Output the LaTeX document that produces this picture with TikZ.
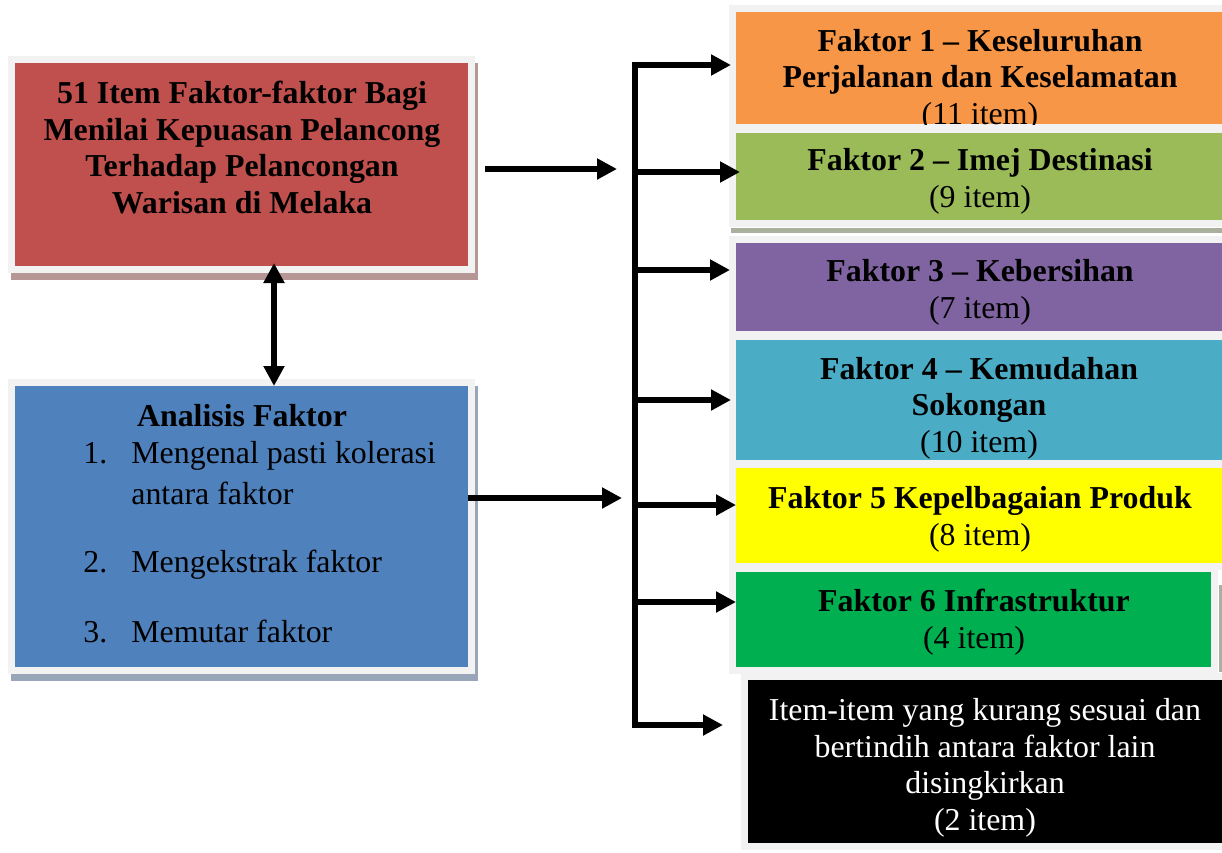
\documentclass[tikz,border=0pt]{standalone}
\usepackage{fontspec}
\setmainfont{Liberation Serif}
\usetikzlibrary{arrows.meta,backgrounds}

\definecolor{framegray}{HTML}{F2F2F2}
\definecolor{redfill}{HTML}{C0504D}
\definecolor{redshade}{HTML}{B79696}
\definecolor{bluefill}{HTML}{4F81BD}
\definecolor{blueshade}{HTML}{99A6B9}
\definecolor{orangefill}{HTML}{F79646}
\definecolor{olivefill}{HTML}{9BBB59}
\definecolor{greenshade}{HTML}{A9B09D}
\definecolor{purplefill}{HTML}{8064A2}
\definecolor{aquafill}{HTML}{4BACC6}
\definecolor{yellowfill}{HTML}{FFFF00}
\definecolor{greenfill}{HTML}{00B050}

\tikzset{
  box/.style={rectangle, inner sep=0pt, outer sep=0pt,
    preaction={draw=framegray, line width=7bp}},
  sidebox/.style={box, minimum width=247bp},
  boxtext/.style={align=center, anchor=base, inner sep=0pt,
    font=\fontsize{16}{18.3}\selectfont\bfseries},
  link/.style={line width=3bp, -{Triangle[length=10bp,width=10bp]}},
}

\begin{document}
\begin{tikzpicture}[x=0.5bp, y=-0.5bp]
    \useasboundingbox (0,0) rectangle (1222,852);

    % left boxes (text nodes sit on their last baseline)
    \node[box, fill=redfill, minimum width=226.5bp, minimum height=101.5bp] (items) at (241.5,164.5) {};
    \node[boxtext] (itemstext) at (242,213)
        {51 Item Faktor-faktor Bagi\\Menilai Kepuasan Pelancong\\Terhadap Pelancongan\\Warisan di Melaka};
    \node[box, fill=bluefill, minimum width=226.5bp, minimum height=140.5bp] (analisis) at (241.5,526.5) {};
    \node[boxtext] (analisistitle) at (242,426) {Analisis Faktor};
    \node[anchor=base west, inner sep=0pt, font=\fontsize{16}{21}\selectfont] (steps) at (83,463)
        {\begin{tabular}[t]{@{}p{24bp}@{}l@{}}
            1. & Mengenal pasti kolerasi\\
               & antara faktor\\[13bp]
            2. & Mengekstrak faktor\\[14bp]
            3. & Memutar faktor
         \end{tabular}};

    % factor boxes
    \node[sidebox, fill=orangefill, minimum height=56bp] (f1) at (983,68) {};
    \node[sidebox, fill=olivefill, minimum height=43.5bp] (f2) at (983,176.5) {};
    \node[sidebox, fill=purplefill, minimum height=44bp] (f3) at (983,287) {};
    \node[sidebox, fill=aquafill, minimum height=60bp] (f4) at (983,400) {};
    \node[sidebox, fill=yellowfill, minimum height=47.5bp] (f5) at (983,515.5) {};
    \node[box, fill=greenfill, minimum width=237.5bp, minimum height=47.5bp] (f6) at (973.5,619.5) {};
    \node[box, fill=black, minimum width=241bp, minimum height=81.5bp] (dropped) at (989,761.5) {};

    \begin{scope}
        \clip (f1.north west) rectangle (f1.south east);
        \node[boxtext] (f1text) at (980,124)
            {Faktor 1 – Keseluruhan\\Perjalanan dan Keselamatan\\{\mdseries(11 item)}};
    \end{scope}
    \node[boxtext] (f2text) at (980,207) {Faktor 2 – Imej Destinasi\\{\mdseries(9 item)}};
    \node[boxtext] (f3text) at (980,318) {Faktor 3 – Kebersihan\\{\mdseries(7 item)}};
    \node[boxtext] (f4text) at (979,452) {Faktor 4 – Kemudahan\\Sokongan\\{\mdseries(10 item)}};
    \node[boxtext] (f5text) at (980,545) {Faktor 5 Kepelbagaian Produk\\{\mdseries(8 item)}};
    \node[boxtext] (f6text) at (974,648) {Faktor 6 Infrastruktur\\{\mdseries(4 item)}};
    \node[boxtext, font=\fontsize{16}{18.3}\selectfont, text=white] (droppedtext) at (985,830)
        {Item-item yang kurang sesuai dan\\bertindih antara faktor lain\\disingkirkan\\(2 item)};

    % shadows
    \begin{scope}[on background layer]
        \fill[redshade] ([shift={(-4,0)}]items.north west) rectangle ([shift={(10,14)}]items.south east);
        \fill[blueshade] ([shift={(-4,0)}]analisis.north west) rectangle ([shift={(10,14)}]analisis.south east);
        \fill[greenshade] ([shift={(-5,8)}]f2.south west) rectangle ([shift={(0,13)}]f2.south east);
        \fill[greenshade] ([shift={(8,13)}]f6.north east) rectangle ([shift={(11,5)}]f6.south east);
    \end{scope}

    % connectors
    \coordinate (bartop) at (635,62);
    \coordinate (barbot) at (635,728);
    \coordinate (b1) at (635,65);
    \coordinate (b2) at (635,172);
    \coordinate (b3) at (635,270);
    \coordinate (b4) at (635,400);
    \coordinate (b5) at (635,505);
    \coordinate (b6) at (635,602);
    \coordinate (b7) at (635,725);
    \coordinate (itemsout) at ([yshift=-2.25bp]items.east);
    \coordinate (analisisout) at ([yshift=14.25bp]analisis.east);

    \draw[line width=3bp] (bartop) -- (barbot);
    \draw[link, shorten <=8.5bp, shorten >=9bp] (itemsout) -- (itemsout -| bartop);
    \draw[link, shorten >=6.5bp] (analisisout) -- (analisisout -| bartop);
    \draw[link, {Triangle[length=10bp,width=10bp]}-{Triangle[length=10bp,width=10bp]}, shorten <=-1.5bp]
        ([xshift=16.25bp]items.south) -- ([xshift=16.25bp]analisis.north);
    \draw[link, shorten >=2.5bp] (b1) -- (b1 -| f1.west);
    \draw[link, shorten >=-2bp] (b2) -- (b2 -| f2.west);
    \draw[link, shorten >=3bp] (b3) -- (b3 -| f3.west);
    \draw[link, shorten >=2.5bp] (b4) -- (b4 -| f4.west);
    \draw[link] (b5) -- (b5 -| f5.west);
    \draw[link] (b6) -- (b6 -| f6.west);
    \draw[link, shorten >=12.5bp] (b7) -- (b7 -| dropped.west);
\end{tikzpicture}
\end{document}
